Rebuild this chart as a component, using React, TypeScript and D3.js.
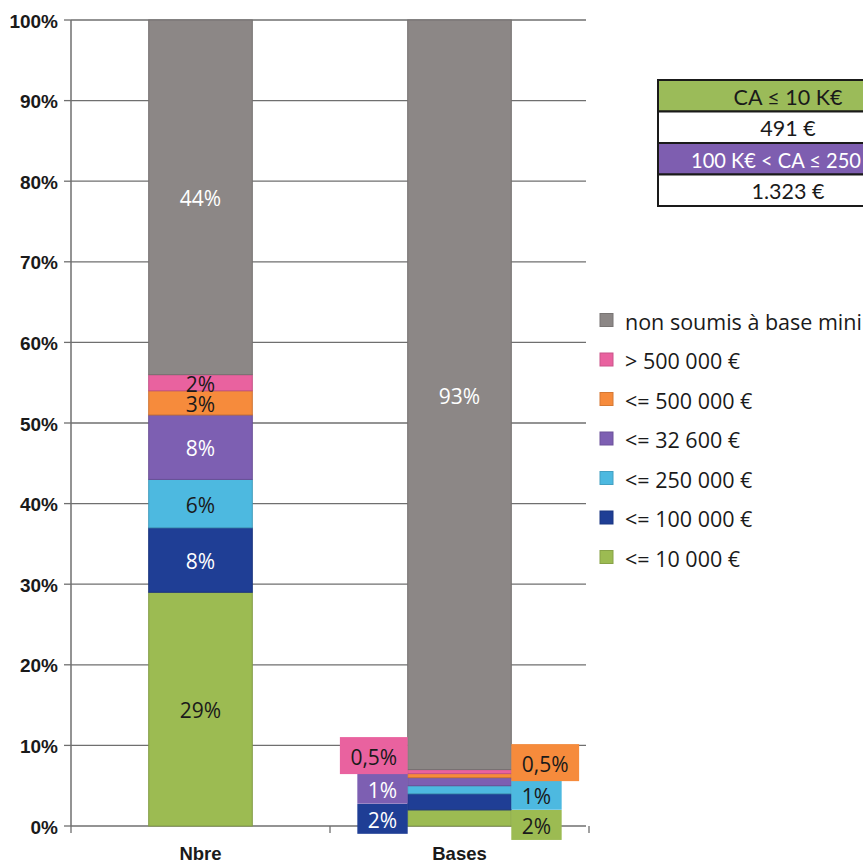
import React, { useMemo } from "react";
import * as d3 from "d3";

// Stack order, bottom to top
const seriesNames = [
  "<= 10 000 €",
  "<= 100 000 €",
  "<= 250 000 €",
  "<= 32 600 €",
  "<= 500 000 €",
  "> 500 000 €",
  "non soumis à base mini",
];
const seriesColors = ["#9cbb52", "#1f3e95", "#4db9e0", "#7d5fb2", "#f68b3c", "#e9629f", "#8c8786"];
const labelOnDark = [false, true, false, true, false, false, true];

const categories = ["Nbre", "Bases"];
const nbreValues = [29, 8, 6, 8, 3, 2, 44];
const basesValues = [2, 2, 1, 1, 0.5, 0.5, 93];

const yTicks = [0, 10, 20, 30, 40, 50, 60, 70, 80, 90, 100];

// Side boxes for the thin "Bases" segments
const basesBoxSide = ["right", "left", "right", "left", "right", "left"];

// Minimum-contribution table
const tableRows = [
  { text: "CA ≤ 10 K€", fill: "#9bbb59", color: "#1a1a1a" },
  { text: "491 €", fill: "#ffffff", color: "#1a1a1a" },
  { text: "100 K€ < CA ≤ 250", fill: "#7e5eb0", color: "#ffffff" },
  { text: "1.323 €", fill: "#ffffff", color: "#1a1a1a" },
];

const W = 863;
const H = 863;
const M = { left: 71, right: 589, top: 20, bottom: 826 };
const LABEL_FONT = "'Open Sans', sans-serif";
const TABLE_FONT = "Lato, sans-serif";

const fmt = (v: number) => `${String(v).replace(".", ",")}%`;

function textWidth(text: string, font: string) {
  const c = document.createElement("canvas").getContext("2d");
  if (!c) return text.length * 10;
  c.font = font;
  return c.measureText(text).width;
}

export default function App() {
  const x = d3
    .scaleBand<string>()
    .domain(categories)
    .range([M.left, M.right])
    .paddingInner(0.6)
    .paddingOuter(0.3);
  const y = d3.scaleLinear().domain([0, 100]).range([M.bottom, M.top]);

  const table = useMemo(
    () =>
      categories.map((c, i) => {
        const o: Record<string, number | string> = { cat: c };
        const vals = i === 0 ? nbreValues : basesValues;
        seriesNames.forEach((s, j) => (o[s] = vals[j]));
        return o;
      }),
    []
  );

  const stacked = d3.stack<Record<string, number | string>>().keys(seriesNames)(table as any);

  const bw = x.bandwidth();
  const xNbre = x("Nbre")!;
  const xBases = x("Bases")!;

  // vertical nudges that keep the Bases boxes from overlapping
  const basesBoxShift = [7, 17, 5, 7, -13, -16];

  // table cell text: centred, but squeezed to stay inside the visible area
  const tableLeft = 658;
  const tableCenter = 788;
  const visibleRight = W - 2;

  return (
    <svg
      width={W}
      height={H}
      style={{ position: "absolute", left: 0, top: 0, background: "#fff" }}
      fontFamily={LABEL_FONT}
    >
      {/* gridlines */}
      {yTicks.map((t) => (
        <line key={t} x1={M.left} x2={M.right - 3} y1={y(t)} y2={y(t)} stroke="#6f6f6f" strokeWidth={1.3} />
      ))}
      {/* y axis */}
      <line x1={M.left} x2={M.left} y1={M.top} y2={M.bottom} stroke="#6f6f6f" strokeWidth={1.5} />
      {yTicks.map((t) => (
        <g key={"yt" + t}>
          <line x1={M.left - 7} x2={M.left} y1={y(t)} y2={y(t)} stroke="#6f6f6f" strokeWidth={1.3} />
          <text
            x={58}
            y={y(t) + 1}
            textAnchor="end"
            dominantBaseline="central"
            fontFamily="'Liberation Sans', Arial, sans-serif"
            fontWeight="bold"
            fontSize={19}
            fill="#1a1a1a"
          >
            {t}%
          </text>
        </g>
      ))}
      {/* x axis ticks */}
      {[M.left, (M.left + M.right) / 2, M.right].map((tx) => (
        <line key={"xt" + tx} x1={tx} x2={tx} y1={M.bottom} y2={M.bottom + 7} stroke="#6f6f6f" strokeWidth={1.3} />
      ))}
      {categories.map((c) => (
        <text
          key={"xl" + c}
          x={x(c)! + bw / 2}
          y={860}
          textAnchor="middle"
          fontFamily="'Liberation Sans', Arial, sans-serif"
          fontWeight="bold"
          fontSize={18.5}
          fill="#1a1a1a"
        >
          {c}
        </text>
      ))}

      {/* stacked bars */}
      {stacked.map((layer, j) =>
        layer.map((d, i) => (
          <rect
            key={`${j}-${i}`}
            x={x(categories[i])!}
            width={bw}
            y={y(d[1])}
            height={y(d[0]) - y(d[1])}
            fill={seriesColors[j]}
            stroke={d3.color(seriesColors[j])!.darker(0.5).toString()}
            strokeWidth={1}
          />
        ))
      )}

      {/* Nbre labels, centred in each segment */}
      {stacked.map((layer, j) => {
        const d = layer[0];
        return (
          <text
            key={"ln" + j}
            x={xNbre + bw / 2}
            y={y((d[0] + d[1]) / 2) + 1}
            textAnchor="middle"
            dominantBaseline="central"
            fontSize={21}
            fill={labelOnDark[j] ? "#ffffff" : "#1a1a1a"}
          >
            {fmt(nbreValues[j])}
          </text>
        );
      })}

      {/* Bases: big segment labelled inside, small ones in side boxes */}
      {stacked.map((layer, j) => {
        const d = layer[1];
        const cy = y((d[0] + d[1]) / 2);
        const label = fmt(basesValues[j]);
        const textColor = labelOnDark[j] ? "#ffffff" : "#1a1a1a";
        if (j === seriesNames.length - 1) {
          return (
            <text
              key={"lb" + j}
              x={xBases + bw / 2}
              y={cy + 1}
              textAnchor="middle"
              dominantBaseline="central"
              fontSize={21}
              fill={textColor}
            >
              {label}
            </text>
          );
        }
        const tw = textWidth(label, `21px ${LABEL_FONT}`);
        const boxW = tw + 21;
        const boxH = basesValues[j] < 1 ? 37 : 30;
        const bcy = cy + basesBoxShift[j];
        const bx = basesBoxSide[j] === "left" ? xBases - boxW : xBases + bw;
        return (
          <g key={"lb" + j}>
            <rect x={bx} y={bcy - boxH / 2} width={boxW} height={boxH} fill={seriesColors[j]} />
            <text
              x={bx + boxW / 2}
              y={bcy + 1}
              textAnchor="middle"
              dominantBaseline="central"
              fontSize={21}
              fill={textColor}
            >
              {label}
            </text>
          </g>
        );
      })}

      {/* legend, top of stack first */}
      {seriesNames
        .map((s, j) => ({ s, j }))
        .reverse()
        .map(({ s, j }, k) => {
          const cy = 320 + k * 39.5;
          return (
            <g key={"lg" + j}>
              <rect
                x={600}
                y={cy - 6.5}
                width={13}
                height={13}
                fill={seriesColors[j]}
                stroke={d3.color(seriesColors[j])!.darker(0.4).toString()}
              />
              <text x={625} y={cy + 1} dominantBaseline="central" fontSize={21.5} fill="#1a1a1a">
                {s}
              </text>
            </g>
          );
        })}

      {/* table */}
      <g fontFamily={TABLE_FONT}>
        {tableRows.map((r, i) => {
          const rowH = 31.5;
          const ty = 80 + i * rowH;
          const fs = 21.5;
          const tw = textWidth(r.text, `${fs}px ${TABLE_FONT}`);
          const overflow = tableCenter + tw / 2 > visibleRight;
          const avail = 2 * (visibleRight - tableCenter) + 24;
          return (
            <g key={"tb" + i}>
              <rect x={tableLeft} y={ty} width={260} height={rowH} fill={r.fill} stroke="#1a1a1a" strokeWidth={2} />
              {overflow ? (
                <text
                  x={visibleRight - Math.min(tw, avail)}
                  y={ty + rowH / 2 + 1}
                  dominantBaseline="central"
                  fontSize={fs}
                  fill={r.color}
                  textLength={Math.min(tw, avail)}
                  lengthAdjust="spacingAndGlyphs"
                >
                  {r.text}
                </text>
              ) : (
                <text
                  x={tableCenter}
                  y={ty + rowH / 2 + 1}
                  textAnchor="middle"
                  dominantBaseline="central"
                  fontSize={fs}
                  fill={r.color}
                >
                  {r.text}
                </text>
              )}
            </g>
          );
        })}
      </g>
    </svg>
  );
}
